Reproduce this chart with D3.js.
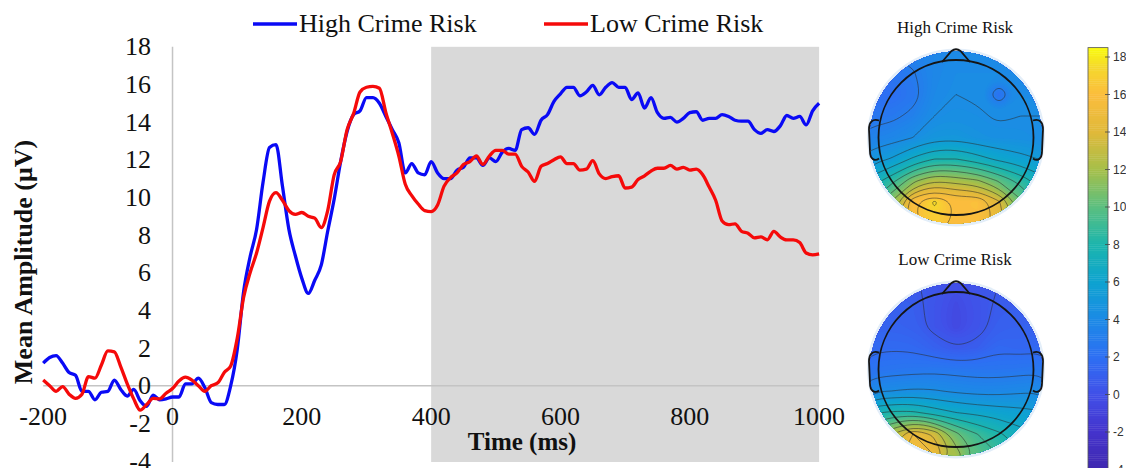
<!DOCTYPE html>
<html><head><meta charset="utf-8">
<script src="https://cdn.jsdelivr.net/npm/d3@7"></script>
<style>body{margin:0;background:#fff}svg{display:block}</style>
</head><body><svg id="c" width="1126" height="468"></svg>
<script>
// ---------------- data ----------------
const timeMs = d3.range(-200, 1001, 10);
const seriesNames = ["High Crime Risk", "Low Crime Risk"];
const highRisk = [
  1.2, 1.5, 1.6, 1.2, 0.7, 0.55, -0.3, -0.3, -0.75, -0.35,
  -0.3, 0.3, -0.2, -0.55, -0.2, -0.8, -1.1, -0.5, -0.75, -0.7,
  -0.6, -0.6, 0.1, 0.1, 0.4, -0.1, -0.9, -1.0, -1.0, 0.0,
  1.9, 5.0, 6.85, 8.3, 10.8, 12.65, 12.8, 10.6, 8.3, 6.9,
  5.7, 4.9, 5.6, 6.4, 8.2, 9.9, 11.9, 13.5, 14.4, 14.6,
  15.3, 15.3, 15.0, 14.3, 13.6, 12.9, 11.3, 11.8, 11.3, 11.2,
  11.9, 11.3, 11.0, 11.0, 11.45, 11.6, 12.1, 12.1, 11.7, 12.1,
  11.9, 12.4, 12.6, 12.5, 13.6, 13.7, 13.35, 14.1, 14.4, 15.1,
  15.5, 15.85, 15.85, 15.4, 15.6, 15.95, 15.45, 15.85, 16.1, 15.85,
  15.85, 15.2, 15.55, 14.75, 15.3, 14.5, 14.2, 14.25, 14.0, 14.2,
  14.5, 14.55, 14.1, 14.2, 14.2, 14.4, 14.3, 14.1, 14.05, 14.05,
  13.6, 13.4, 13.6, 13.5, 13.8, 14.35, 14.2, 14.3, 13.85, 14.6,
  15.0
];
const lowRisk = [
  0.3, 0.0, -0.3, -0.05, -0.45, -0.67, -0.45, 0.48, 0.4, 1.1,
  1.85, 1.8, 1.0, 0.1, -0.7, -1.3, -1.0, -0.67, -0.7, -0.4,
  -0.15, 0.25, 0.45, 0.3, 0.0, -0.3, 0.0, 0.15, 0.7, 1.05,
  2.5, 4.7, 6.0, 7.05, 8.4, 9.8, 10.25, 9.85, 9.3, 9.1,
  9.2, 9.0, 8.9, 8.4, 9.3, 11.2, 11.9, 13.6, 14.45, 15.6,
  15.85, 15.9, 15.8, 14.5, 13.4, 12.2, 10.7, 10.1, 9.65, 9.3,
  9.25, 9.6, 10.6, 11.05, 11.3, 11.75, 11.9, 12.2, 11.75, 12.2,
  12.5, 12.5, 12.3, 12.3, 11.65, 11.35, 10.85, 11.65, 11.8, 12.0,
  12.15, 11.8, 11.8, 11.45, 11.5, 11.95, 11.25, 11.0, 11.1, 11.15,
  10.5, 10.55, 10.95, 11.15, 11.4, 11.55, 11.55, 11.7, 11.5, 11.6,
  11.45, 11.5, 11.2, 10.55, 9.85, 8.75, 8.55, 8.6, 8.2, 8.1,
  7.85, 7.9, 7.75, 8.2, 7.9, 7.74, 7.75, 7.6, 7.05, 6.95,
  7.0
];
const xTicks = [-200, 0, 200, 400, 600, 800, 1000];
const yTicks = [-4, -2, 0, 2, 4, 6, 8, 10, 12, 14, 16, 18];
const windowMs = [400, 1000];

// scalp maps: rows front (top) -> back (bottom), columns left -> right
const topoHigh = [
  [3.1, 3.1, 3.4, 3.7, 4.0, 4.0, 3.8, 3.7, 3.7],
  [2.4, 2.4, 2.9, 3.8, 4.1, 4.1, 4.1, 4.0, 3.9],
  [1.9, 1.9, 2.5, 3.9, 4.2, 4.1, 2.2, 4.1, 4.0],
  [2.6, 2.7, 3.3, 4.2, 4.4, 4.3, 4.1, 4.2, 4.2],
  [3.4, 3.7, 4.2, 4.9, 5.0, 4.6, 4.4, 4.4, 4.2],
  [4.8, 5.5, 6.8, 7.8, 7.8, 7.1, 6.3, 5.8, 5.3],
  [7.0, 8.5, 11.0, 12.5, 12.0, 11.5, 10.0, 8.5, 7.0],
  [9.0, 11.5, 16.0, 17.6, 16.0, 16.2, 14.0, 10.5, 8.5],
  [10.0, 12.5, 16.0, 16.8, 16.0, 16.0, 14.5, 11.5, 9.5]
];
const topoLow = [
  [0.8, 0.8, 0.7, 0.4, 0.0, 0.3, 0.6, 0.7, 0.8],
  [1.0, 1.0, 0.9, 0.3, -0.4, 0.2, 0.8, 0.9, 1.0],
  [1.2, 1.2, 1.0, 0.3, -0.5, 0.2, 1.0, 1.1, 1.2],
  [1.6, 1.7, 1.6, 1.1, 0.6, 0.9, 1.6, 1.4, 1.6],
  [2.3, 2.5, 2.6, 2.7, 2.6, 2.5, 2.5, 2.6, 2.7],
  [4.0, 4.2, 4.4, 4.3, 4.0, 3.8, 3.8, 4.0, 4.1],
  [7.5, 8.0, 8.0, 7.2, 6.6, 6.3, 6.0, 5.8, 5.5],
  [10.5, 12.5, 15.0, 13.5, 10.5, 9.0, 8.0, 7.0, 6.5],
  [12.0, 14.0, 16.0, 15.0, 12.0, 10.0, 9.0, 8.0, 7.0]
];
const contourLevels = [-3.0, -1.8, -0.6, 0.6, 1.8, 3.0, 4.2, 5.4, 6.6, 7.8, 9.0, 10.2, 11.4, 12.6, 13.8, 15.0, 16.2, 17.4];
const colorbarTicks = [-4, -2, 0, 2, 4, 6, 8, 10, 12, 14, 16, 18];
const colorbarRange = [-4.5, 18.5];
const colorStopValues = [-4.5, -2, 0, 2, 4, 6, 8, 10, 12, 14, 16, 17.5, 18.5];
const colorStopColors = ["#3e26a8", "#4433cc", "#4150e8", "#2d6ff3", "#1c8ae6", "#0ea3d0",
  "#1cb5ad", "#5bbf80", "#a6bf4a", "#e0b93a", "#fbbd3d", "#f5d92c", "#f9fb0e"];

// ---------------- drawing ----------------
const serif = "'Liberation Serif','Times New Roman',serif";
const svg = d3.select("#c");
svg.append("rect").attr("width", 1126).attr("height", 468).attr("fill", "#fff");
const defs = svg.append("defs");

const x = d3.scaleLinear().domain([-200, 1000]).range([43.2, 819.1]);
const y = d3.scaleLinear().domain([-4, 18]).range([461.0, 46.8]);

svg.append("rect")
  .attr("x", x(windowMs[0])).attr("y", y(18))
  .attr("width", x(windowMs[1]) - x(windowMs[0]))
  .attr("height", y(-4) - y(18) + 1)
  .attr("fill", "#d9d9d9");

svg.append("line").attr("x1", x(0)).attr("x2", x(0)).attr("y1", y(18)).attr("y2", y(-4) + 1)
  .attr("stroke", "#c4c4c4").attr("stroke-width", 1.5);
svg.append("line").attr("x1", x(-200)).attr("x2", x(1000)).attr("y1", y(0)).attr("y2", y(0))
  .attr("stroke", "#c4c4c4").attr("stroke-width", 1.5);

const line = d3.line().x((d, i) => x(timeMs[i])).y(d => y(d)).curve(d3.curveMonotoneX);
svg.append("path").attr("d", line(highRisk)).attr("fill", "none")
  .attr("stroke", "#0a0af5").attr("stroke-width", 3.3).attr("stroke-linejoin", "round");
svg.append("path").attr("d", line(lowRisk)).attr("fill", "none")
  .attr("stroke", "#f50a0a").attr("stroke-width", 3.3).attr("stroke-linejoin", "round");

svg.append("g").selectAll("text").data(yTicks).join("text")
  .attr("x", 151).attr("y", d => y(d)).attr("text-anchor", "end")
  .attr("dominant-baseline", "central")
  .style("font-family", serif).style("font-size", "26px").attr("fill", "#111")
  .text(d => d);
svg.append("g").selectAll("text").data(xTicks).join("text")
  .attr("x", d => x(d)).attr("y", 425).attr("text-anchor", "middle")
  .style("font-family", serif).style("font-size", "26px").attr("fill", "#111")
  .text(d => d);

svg.append("text").attr("transform", "translate(32,262) rotate(-90)")
  .attr("text-anchor", "middle").style("font-family", serif).style("font-size", "26px")
  .style("font-weight", "bold").attr("fill", "#111").text("Mean Amplitude (μV)");
svg.append("text").attr("x", 522).attr("y", 450).attr("text-anchor", "middle")
  .style("font-family", serif).style("font-size", "25px").style("font-weight", "bold")
  .attr("fill", "#111").text("Time (ms)");

// legend
const legendItems = [
  { name: seriesNames[0], color: "#0a0af5", x0: 253 },
  { name: seriesNames[1], color: "#f50a0a", x0: 544 }
];
legendItems.forEach(it => {
  svg.append("line").attr("x1", it.x0).attr("x2", it.x0 + 44).attr("y1", 24).attr("y2", 24)
    .attr("stroke", it.color).attr("stroke-width", 3.5);
  svg.append("text").attr("x", it.x0 + 46).attr("y", 32)
    .style("font-family", serif).style("font-size", "26px").attr("fill", "#111").text(it.name);
});

// colour scale
const color = d3.scaleLinear().domain(colorStopValues).range(colorStopColors)
  .interpolate(d3.interpolateRgb).clamp(true);

// scalp maps
const bandStep = 0.2;
const bandThresholds = d3.range(colorbarRange[0], colorbarRange[1] + 0.01, bandStep);
function topo(cx, cy, grid, title, titleY, id) {
  const n = grid.length, R = 86, rHead = 77.5;
  const values = grid.flat();
  defs.append("clipPath").attr("id", id).append("circle").attr("r", R);
  svg.append("text").attr("x", cx - 1).attr("y", titleY).attr("text-anchor", "middle")
    .style("font-family", serif).style("font-size", "17px").attr("fill", "#111").text(title);
  const g = svg.append("g").attr("transform", `translate(${cx},${cy})`);
  g.append("circle").attr("r", R + 3).attr("fill", "#e3eef9");
  const toPx = c => (-1 + (c - 0.5) * 2 / (n - 1)) * R;
  const ringLine = d3.line().x(p => toPx(p[0])).y(p => toPx(p[1])).curve(d3.curveBasisClosed);
  const pathOf = geom => geom.coordinates.map(poly => poly.map(r => ringLine(r.slice(0, -1))).join("")).join("");
  const cg = g.append("g").attr("clip-path", `url(#${id})`);
  cg.append("circle").attr("r", R).attr("fill", color(d3.min(values)));
  const bands = d3.contours().size([n, n]).thresholds(bandThresholds)(values);
  cg.selectAll("path.band").data(bands).join("path").attr("class", "band")
    .attr("d", pathOf).attr("fill", d => color(d.value + bandStep / 2)).attr("fill-rule", "evenodd");
  const lines = d3.contours().size([n, n]).thresholds(contourLevels)(values);
  cg.selectAll("path.cl").data(lines).join("path").attr("class", "cl")
    .attr("d", pathOf).attr("fill", "none").attr("stroke", "#2a2a2a")
    .attr("stroke-opacity", 0.6).attr("stroke-width", 0.9);
  const head = g.append("g").attr("fill", "none").attr("stroke", "#151515").attr("stroke-width", 1.8);
  head.append("circle").attr("r", rHead);
  head.append("path").attr("d", "M -14,-75.5 L -4.5,-86.5 Q 0,-90 4.5,-86.5 L 14,-75.5");
  head.append("path").attr("d", "M -77,-17 C -83,-19 -87,-16 -87,-8 L -86,14 C -86,22 -81,24 -77,21");
  head.append("path").attr("d", "M 77,-17 C 83,-19 87,-16 87,-8 L 86,14 C 86,22 81,24 77,21");
}
topo(956, 137.5, topoHigh, seriesNames[0], 33, "clipHigh");
topo(956, 369.5, topoLow, seriesNames[1], 265, "clipLow");

// colorbar
const cb = d3.scaleLinear().domain([-4, 18]).range([469.5, 57]);
const cbSlices = d3.range(colorbarRange[0], colorbarRange[1], 0.1);
svg.append("g").selectAll("rect").data(cbSlices).join("rect")
  .attr("x", 1088).attr("width", 20)
  .attr("y", d => cb(d + 0.1)).attr("height", d => cb(d) - cb(d + 0.1) + 0.4)
  .attr("fill", d => color(d + 0.05));
svg.append("rect").attr("x", 1088).attr("width", 20)
  .attr("y", cb(colorbarRange[1])).attr("height", cb(colorbarRange[0]) - cb(colorbarRange[1]))
  .attr("fill", "none").attr("stroke", "#555").attr("stroke-width", 0.8);
const cbt = svg.append("g").selectAll("g").data(colorbarTicks).join("g");
cbt.append("line").attr("x1", 1105).attr("x2", 1110).attr("y1", d => cb(d)).attr("y2", d => cb(d))
  .attr("stroke", "#444").attr("stroke-width", 0.8);
cbt.append("text").attr("x", 1113).attr("y", d => cb(d)).attr("dominant-baseline", "central")
  .style("font-family", "'Liberation Sans',Arial,sans-serif").style("font-size", "12px")
  .attr("fill", "#333").text(d => d);
</script></body></html>
